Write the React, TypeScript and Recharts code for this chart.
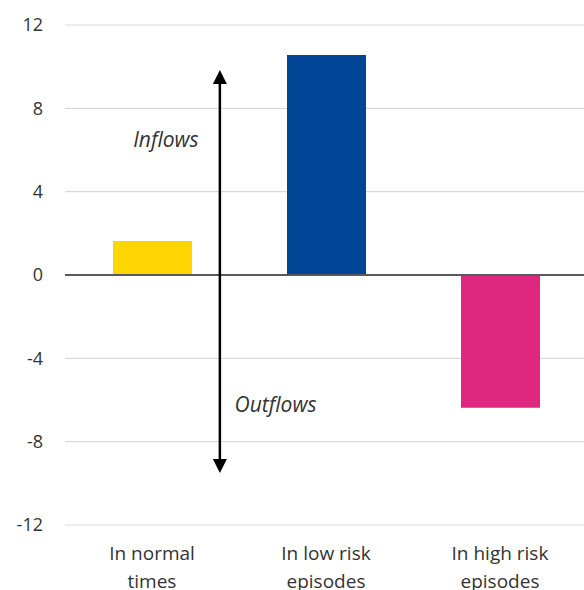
import React from "react";
import {
  ComposedChart,
  Bar,
  Cell,
  XAxis,
  YAxis,
  CartesianGrid,
  ReferenceLine,
  ReferenceDot,
} from "recharts";

const categories = ["In normal times", "In low risk episodes", "In high risk episodes"];
const categoryLines = [
  ["In normal", "times"],
  ["In low risk", "episodes"],
  ["In high risk", "episodes"],
];
const flows = [1.63, 10.56, -6.37];
const barColors = ["#FFD500", "#004596", "#DF2780"];
const yTicks = [-12, -8, -4, 0, 4, 8, 12];

// arrow position, in category-index units on a hidden -0.5..2.5 axis
const arrowX = 0.39;
const arrowTop = 9.84;
const arrowBottom = -9.5;
const flowLabels = [
  { text: "Inflows", x: 0.08, y: 6.5 },
  { text: "Outflows", x: 0.71, y: -6.2 },
];

const data = categories.map((name, i) => ({ name, idx: i, value: flows[i] }));

const FONT = "'Open Sans', sans-serif";

function CategoryTick(props: any) {
  const { x, y, payload } = props;
  const lines = categoryLines[payload.index] ?? [payload.value];
  return (
    <text x={x} y={y} textAnchor="middle" fill="#333" fontSize={19} fontFamily={FONT}>
      {lines.map((l: string, i: number) => (
        <tspan key={i} x={x} dy={i === 0 ? 27 : 28}>
          {l}
        </tspan>
      ))}
    </text>
  );
}

function Arrow(props: any) {
  const { x1, y1, x2, y2 } = props;
  const top = Math.min(y1, y2);
  const bottom = Math.max(y1, y2);
  const hw = 7;
  const hh = 14;
  return (
    <g>
      <line x1={x1} y1={top + hh} x2={x1} y2={bottom - hh} stroke="#000" strokeWidth={2.5} />
      <polygon points={`${x1},${top} ${x1 - hw},${top + hh} ${x1 + hw},${top + hh}`} fill="#000" />
      <polygon points={`${x1},${bottom} ${x1 - hw},${bottom - hh} ${x1 + hw},${bottom - hh}`} fill="#000" />
    </g>
  );
}

export default function App() {
  return (
    <div style={{ position: "absolute", left: 0, top: 0 }}>
      <ComposedChart
        width={584}
        height={590}
        data={data}
        margin={{ top: 25, right: -3, bottom: 0, left: 0 }}
        barCategoryGap="27%"
      >
        <CartesianGrid stroke="#D9D9D9" strokeWidth={1.2} vertical={false} />
        <XAxis
          dataKey="name"
          axisLine={false}
          tickLine={false}
          tick={<CategoryTick />}
          interval={0}
          height={65}
        />
        <XAxis
          xAxisId="num"
          type="number"
          dataKey="idx"
          domain={[-0.5, 2.5]}
          allowDataOverflow
          height={0}
          hide
        />
        <YAxis
          domain={[-12, 12]}
          ticks={yTicks}
          axisLine={false}
          tickLine={false}
          tickSize={0}
          tickMargin={22}
          width={65}
          tick={{ fill: "#333", fontSize: 18, fontFamily: FONT }}
        />
        <Bar dataKey="value" barSize={79} isAnimationActive={false}>
          {data.map((d, i) => (
            <Cell key={d.name} fill={barColors[i]} />
          ))}
        </Bar>
        <ReferenceLine y={0} stroke="#595959" strokeWidth={2.2} />
        <ReferenceLine
          xAxisId="num"
          segment={[
            { x: arrowX, y: arrowTop },
            { x: arrowX, y: arrowBottom },
          ]}
          shape={<Arrow />}
        />
        {flowLabels.map((l) => (
          <ReferenceDot
            key={l.text}
            xAxisId="num"
            x={l.x}
            y={l.y}
            r={0}
            stroke="none"
            fill="none"
            label={{
              value: l.text,
              position: "center",
              fill: "#333",
              fontSize: 21,
              fontStyle: "italic",
              fontFamily: FONT,
            }}
          />
        ))}
      </ComposedChart>
    </div>
  );
}
